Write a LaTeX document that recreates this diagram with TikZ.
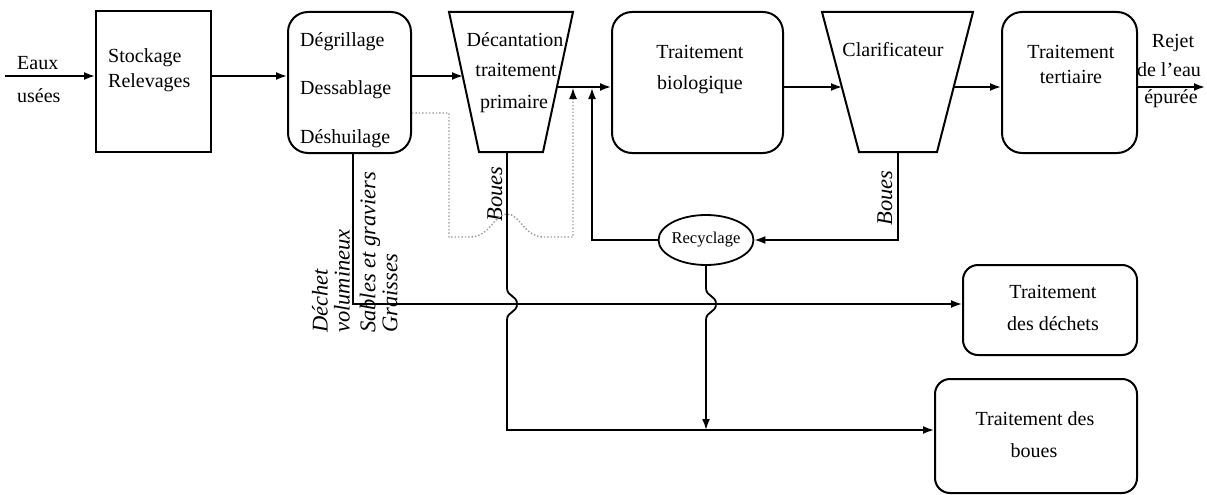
\documentclass[tikz,border=0pt]{standalone}
\usepackage{fontspec}
\setmainfont{Liberation Serif}
\usetikzlibrary{arrows.meta,shapes.geometric}
\begin{document}
\begin{tikzpicture}[x=1pt,y=-1pt,
  box/.style={draw, line width=2pt, inner sep=0pt},
  rbox/.style={box, rounded corners=20pt},
  sbox/.style={box, rounded corners=15pt},
  txt/.style={inner sep=0pt, font=\fontsize{20}{32}\selectfont, anchor=base},
  ltxt/.style={txt, anchor=base west},
  lab/.style={inner sep=0pt, font=\fontsize{22.5}{22.5}\selectfont\itshape, rotate=90},
  conn/.style={line width=1.8pt},
  arr/.style={conn, -{Latex[length=11pt,width=8pt]}},
  dots/.style={line width=1.4pt, dotted, gray!80, -{Latex[length=11pt,width=8pt,color=black]}}]
\useasboundingbox (0,0) rectangle (1207,495);

% boxes
\node[box, minimum width=115pt, minimum height=141pt] (stock) at (153.5,81.5) {};
\node[rbox, minimum width=123pt, minimum height=141pt] (degr) at (349.5,82.5) {};
\node[rbox, minimum width=171pt, minimum height=141pt] (bio) at (697.5,82.5) {};
\node[rbox, minimum width=135pt, minimum height=141pt] (tert) at (1069.5,82.5) {};
\node[sbox, minimum width=174pt, minimum height=90pt] (dech) at (1050,310) {};
\node[sbox, minimum width=202pt, minimum height=114pt] (tboues) at (1036,436) {};
\node[draw, ellipse, line width=1.8pt, minimum width=95pt, minimum height=50pt, inner sep=0pt] (recy) at (706,240) {};
\node[inner sep=0pt, font=\fontsize{16.5}{16.5}\selectfont] (recyt) at (706,240) {Recyclage};

% trapezoids
\draw[line width=2pt, line join=miter] (449,12) -- (573,12) -- (543,152) -- (479,152) -- cycle;
\draw[line width=2pt, line join=miter] (822,12) -- (973,12) -- (937,152) -- (859,152) -- cycle;

% texts
\node[ltxt] (t1) at (17,70) {Eaux};
\node[ltxt] (t2) at (17,102) {usées};
\node[ltxt] (t3) at (108,63) {Stockage};
\node[ltxt] (t4) at (108,88) {Relevages};
\node[ltxt] (t5) at (300,47) {Dégrillage};
\node[ltxt] (t6) at (300,95) {Dessablage};
\node[ltxt] (t7) at (300,143) {Déshuilage};
\node[txt] (t8) at (515,47) {Décantation};
\node[txt] (t9) at (516,77) {traitement};
\node[txt] (t10) at (514,108) {primaire};
\node[txt] (t11) at (700,59) {Traitement};
\node[txt] (t12) at (700,89) {biologique};
\node[txt] (t13) at (893,57) {Clarificateur};
\node[txt] (t14) at (1071,59) {Traitement};
\node[txt] (t15) at (1071,84) {tertiaire};
\node[txt] (t16) at (1173,48) {Rejet};
\node[txt] (t17) at (1169,77) {de l’eau};
\node[txt] (t18) at (1171,103) {épurée};
\node[txt] (t19) at (1053,298) {Traitement};
\node[txt] (t20) at (1053,330) {des déchets};
\node[txt] (t21) at (1035,425) {Traitement des};
\node[txt] (t22) at (1034,457) {boues};

% rotated labels
\node[lab, anchor=west] (l1) at (320,333) {Déchet};
\node[lab, anchor=west] (l2) at (342,333) {volumineux};
\node[lab, anchor=west] (l3) at (370,333) {Sables et graviers};
\node[lab, anchor=west] (l4) at (390,333) {Graisses};
\node[lab] (l5) at (495,194) {Boues};
\node[lab] (l6) at (885,198) {Boues};

% coordinates
\coordinate (in) at (5,76);
\coordinate (decin) at (463,76);
\coordinate (decout) at (557,87);
\coordinate (clarin) at (842,87);
\coordinate (clarout) at (954,87);
\coordinate (rejet) at (1205,87);
\coordinate (up1) at (573,88);
\coordinate (up2) at (592,88);
\coordinate (dy) at (0,113);
\coordinate (degbot) at (353,153);
\coordinate (ly) at (0,304);
\coordinate (decbot) at (507,152);
\coordinate (clarbot) at (898,152);
\coordinate (by) at (0,430);
\coordinate (join) at (706,430);

% main flow
\draw[arr] (in) -- (in -| stock.west);
\draw[arr] (stock.east |- in) -- (degr.west |- in);
\draw[arr] (degr.east |- in) -- (decin);
\draw[arr] (decout) -- (bio.west |- decout);
\draw[arr] (bio.east |- decout) -- (clarin);
\draw[arr] (clarout) -- (tert.west |- clarout);
\draw[arr] (tert.east |- clarout) -- (rejet);

% recycling
\draw[arr] (clarbot) |- (recy.east);
\draw[arr] (recy.west) -| (up2);

% dotted return
\draw[dots] (degr.east |- dy) -- (449,113) -- (449,237) -- (470,237)
  .. controls (490,237) and (494,214) .. (507,214)
  .. controls (520,214) and (524,237) .. (544,237) -- (573,237) -- (up1);

% waste line
\draw[arr] (degbot) -- (degbot |- ly) -- (dech.west |- ly);

% sludge lines with hops
\draw[arr] (decbot) -- (507,288)
  .. controls (507,297) and (517,295) .. (517,304)
  .. controls (517,313) and (507,311) .. (507,320)
  -- (decbot |- by) -- (tboues.west |- by);
\draw[arr] (recy.south) -- (706,288)
  .. controls (706,297) and (716,295) .. (716,304)
  .. controls (716,313) and (706,311) .. (706,320)
  -- (join);
\end{tikzpicture}
\end{document}
